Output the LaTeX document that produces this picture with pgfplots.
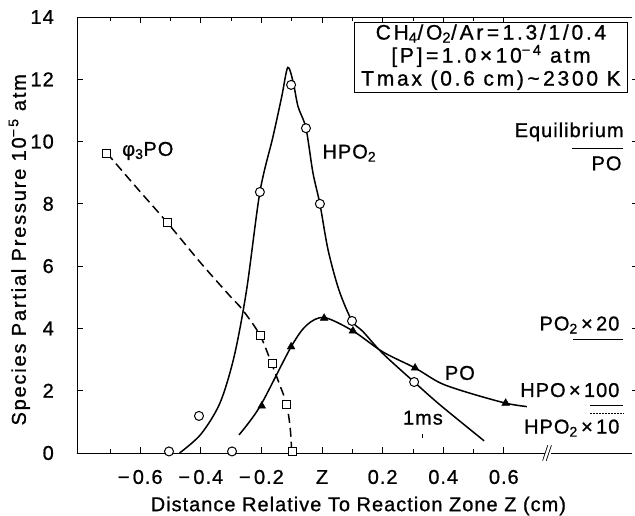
\documentclass[border=0pt]{standalone}
\usepackage{fontspec}
\setmainfont{Liberation Sans}[FakeBold=0.9, LetterSpace=5]
\usepackage{pgfplots}
\pgfplotsset{compat=1.18}
\newcommand{\fs}{\fontsize{20}{22}\selectfont}
\begin{document}
\begin{tikzpicture}
\useasboundingbox (-77pt,-63pt) rectangle (558pt,453pt);
\begin{axis}[
  at={(0,0)}, anchor=south west, scale only axis,
  width=555pt, height=436pt,
  xmin=-0.8086, xmax=1.023, ymin=0, ymax=14,
  axis x line=box, axis y line=left,
  axis line style={-, line width=0.8pt},
  xtick={-0.6,-0.4,-0.2,0,0.2,0.4,0.6},
  xticklabels={−\,0.6,−\,0.4,−\,0.2,Z,0.2,0.4,0.6},
  minor xtick={-0.7,-0.5,-0.3,-0.1,0.1,0.3,0.5},
  ytick={0,2,...,14},
  tick align=inside,
  major tick length=6pt, minor tick length=4pt,
  tick style={line width=0.8pt, black},
  /pgf/number format/assume math mode=true,
  ticklabel style={font=\fs},
  xticklabel style={anchor=center, yshift=-24pt},
  yticklabel style={anchor=east, inner sep=0pt, xshift=-23pt},
  xlabel={Distance Relative To Reaction Zone Z (cm)},
  ylabel={Species Partial Pressure 10\textsuperscript{−\,5} atm},
  label style={font=\fs},
  xlabel style={at={(axis description cs:0.507,0)}, anchor=center, yshift=-53pt},
  ylabel style={at={(axis description cs:-0.104,0.466)}, anchor=center, font=\fs\addfontfeature{LetterSpace=9}},
  clip=false,
]
% phi3PO dashed curve
\addplot[black, line width=1.5pt, dash pattern=on 9pt off 5pt, smooth, tension=0.5] coordinates {
 (-0.71,9.63) (-0.61,8.5) (-0.51,7.39) (-0.4,6.1) (-0.3,5.0) (-0.264,4.62)
 (-0.205,3.79) (-0.166,2.86) (-0.14,2.2) (-0.117,1.57) (-0.105,0.8) (-0.1,0.04)};
\addplot[only marks, mark=square*, mark size=4pt, mark options={fill=white, draw=black, line width=1pt}] coordinates {
 (-0.71,9.63) (-0.51,7.39) (-0.202,3.76) (-0.165,2.86) (-0.117,1.57) (-0.099,0.05)};
% HPO2 curve
\addplot[black, line width=1.5pt, smooth, tension=0.5] coordinates {
 (-0.47,0) (-0.40,0.6) (-0.337,1.6) (-0.29,3.1) (-0.249,5.23) (-0.205,8.38)
 (-0.162,10.15) (-0.133,11.44) (-0.113,12.38) (-0.095,11.9) (-0.079,11.12) (-0.053,10.43)
 (-0.03,9.0) (-0.007,8.0) (0.02,6.52) (0.056,5.23) (0.099,4.24) (0.135,3.9) (0.2,3.2)
 (0.304,2.28) (0.39,1.54) (0.535,0.39)};
\addplot[only marks, mark=*, mark size=4.5pt, mark options={fill=white, draw=black, line width=1pt}] coordinates {
 (-0.505,0.05) (-0.406,1.19) (-0.297,0.05) (-0.205,8.38) (-0.102,11.82) (-0.053,10.43)
 (-0.007,8.0) (0.099,4.24) (0.304,2.28)};
% PO curve
\addplot[black, line width=1.5pt, smooth, tension=0.5] coordinates {
 (-0.274,0.58) (-0.205,1.49) (-0.102,3.41) (-0.05,4.11) (0.007,4.35) (0.102,3.92)
 (0.2,3.25) (0.307,2.73) (0.39,2.25) (0.478,1.95) (0.606,1.6) (0.676,1.49)};
\addplot[only marks, mark=triangle*, mark size=4.5pt, mark options={fill=black, draw=black}] coordinates {
 (-0.199,1.51) (-0.102,3.41) (0.007,4.33) (0.102,3.92) (0.307,2.73) (0.606,1.6)};
% top axis line and right ticks
\draw[line width=0.8pt] (rel axis cs:0,1) -- (rel axis cs:1,1);
\pgfplotsinvokeforeach{2,4,6,8,10,12}{\draw[line width=0.8pt] (axis cs:1.023,#1) -- ++(4pt,0);}
% axis break
\fill[white] (axis cs:0.735,-0.25) rectangle (axis cs:0.757,0.25);
\draw[line width=0.7pt] (axis cs:0.728,-0.25) -- (axis cs:0.745,0.25);
\draw[line width=0.7pt] (axis cs:0.740,-0.25) -- (axis cs:0.757,0.25);
% labels
\node[font=\fs] at (axis cs:-0.575,9.7) {φ\textsubscript{3}PO};
\node[font=\fs, anchor=west] at (axis cs:-0.01,9.63) {HPO\textsubscript{2}};
\node[font=\fs] at (axis cs:0.455,2.57) {PO};
\node[font=\fs] at (axis cs:0.333,1.13) {1ms};
\draw[line width=1pt] (axis cs:0.333,0.48) -- (axis cs:0.333,0.62);
% box
\node[draw, line width=0.8pt, font=\fontsize{21}{23}\selectfont\addfontfeature{LetterSpace=13}, align=center, anchor=north east, inner xsep=7pt, inner ysep=2pt] at (axis cs:1.01,13.84)
 {CH\textsubscript{4}/O\textsubscript{2}/Ar\,=\,1.3/1/0.4\\ {[P]}\,=\,1.0\,×\,10\textsuperscript{−\,4} atm\\ Tmax (0.6 cm)\,\textasciitilde\,2300 K};
% equilibrium labels
\node[font=\fs, anchor=east] at (axis cs:1.007,10.31) {Equilibrium};
\draw[line width=0.8pt] (axis cs:0.825,9.79) -- (axis cs:0.993,9.79);
\node[font=\fs, anchor=east] at (axis cs:1.0,9.3) {PO};
\node[font=\fs, anchor=east] at (axis cs:0.993,4.11) {PO\textsubscript{2}\,×\,20};
\draw[line width=0.8pt] (axis cs:0.828,3.66) -- (axis cs:0.993,3.66);
\node[font=\fs, anchor=east] at (axis cs:0.993,2.02) {HPO\,×\,100};
\draw[line width=0.8pt] (axis cs:0.884,1.54) -- (axis cs:0.993,1.54);
\draw[line width=0.5pt, densely dotted] (axis cs:0.884,1.28) -- (axis cs:0.993,1.28);
\node[font=\fs, anchor=east] at (axis cs:0.993,0.8) {HPO\textsubscript{2}\,×\,10};
\end{axis}
\end{tikzpicture}
\end{document}
